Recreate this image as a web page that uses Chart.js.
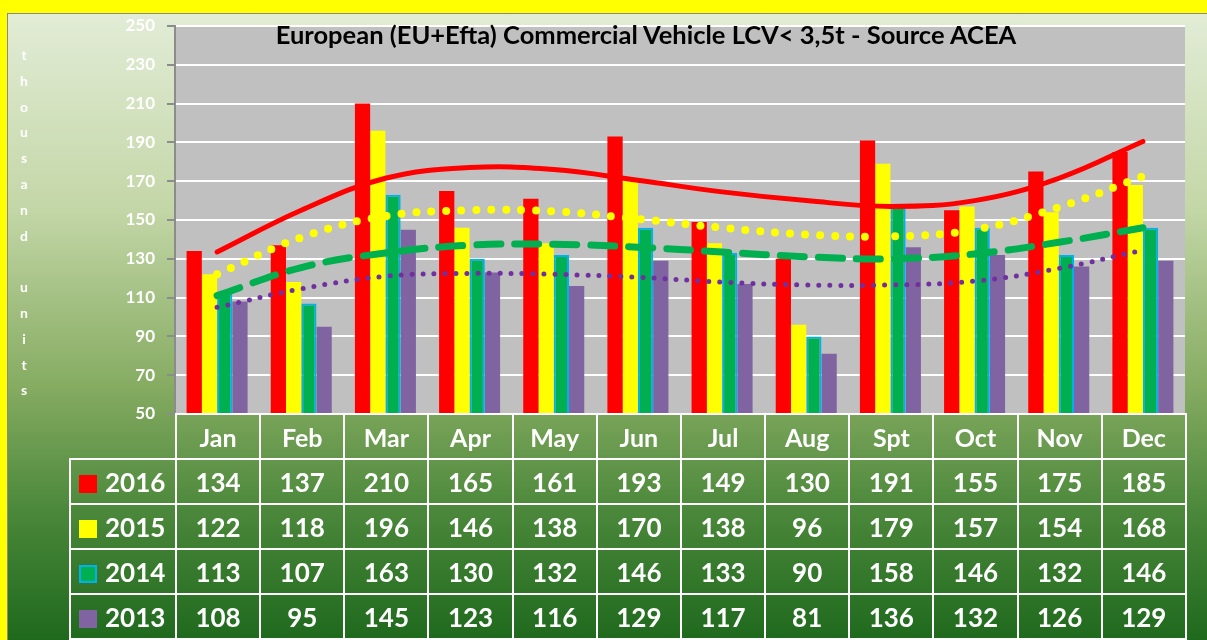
<html>
  <head>
    <style>
body {
  margin: 0;
  width: 1207px;
  height: 640px;
  overflow: hidden;
  background: #ffff00;
  font-family: Lato, "Open Sans", sans-serif;
  position: relative;
}

#panel {
  position: absolute;
  left: 7px;
  top: 13px;
  width: 1210px;
  height: 640px;
  border-left: 1px solid #8a8a8a;
  border-top: 1px solid #8a8a8a;
  background: linear-gradient(to bottom, #e2ecd6 0%, #c4d7a8 30%, #86ac62 58%, #4a873a 78%, #1a661a 100%);
}

#chart {
  position: absolute;
  left: 0;
  top: 0;
}

#title {
  position: absolute;
  left: 175px;
  width: 942px;
  top: 19px;
  text-align: center;
  font-weight: bold;
  font-size: 25.5px;
  color: #000;
}

#ylabel {
  position: absolute;
  left: 16px;
  top: 42px;
  width: 16px;
  text-align: center;
  color: #fff;
  font-weight: bold;
  font-size: 14px;
  line-height: 25.8px;
}

#table {
  position: absolute;
  left: 69px;
  top: 413px;
  border-collapse: collapse;
  table-layout: fixed;
  color: #fff;
  font-weight: bold;
}

#table td {
  border: 2px solid #fff;
  text-align: center;
  height: 45px;
  padding: 0;
  font-size: 26px;
}

#table td.month {
  font-size: 25px;
}

#table td.blank {
  border: none;
  border-bottom: 2px solid #fff;
}

#table td.year {
  text-align: left;
  padding-left: 8px;
}

.key {
  display: inline-block;
  width: 18px;
  height: 18px;
  margin-right: 8px;
  vertical-align: -1px;
  box-sizing: border-box;
}
    </style>
  </head>
  <body>
    <div id="panel"></div>
    <canvas id="chart" width="1207" height="640"></canvas>
    <div id="title">European (EU+Efta) Commercial Vehicle LCV&lt; 3,5t - Source ACEA</div>
    <div id="ylabel">t<br>h<br>o<br>u<br>s<br>a<br>n<br>d<br>&nbsp;<br>u<br>n<br>i<br>t<br>s</div>
    <table id="table"></table>
    <script src="https://cdn.jsdelivr.net/npm/chart.js"></script>
    <script>

const months = ['Jan', 'Feb', 'Mar', 'Apr', 'May', 'Jun', 'Jul', 'Aug', 'Spt', 'Oct', 'Nov', 'Dec']
const years = ['2016', '2015', '2014', '2013']
const v2016 = [134, 137, 210, 165, 161, 193, 149, 130, 191, 155, 175, 185]
const v2015 = [122, 118, 196, 146, 138, 170, 138, 96, 179, 157, 154, 168]
const v2014 = [113, 107, 163, 130, 132, 146, 133, 90, 158, 146, 132, 146]
const v2013 = [108, 95, 145, 123, 116, 129, 117, 81, 136, 132, 126, 129]

// trendlines at each month
const trend2016 = [133.5, 155, 171.5, 177, 176, 170.5, 164.5, 160, 157, 160, 171.5, 190.5]
const trend2015 = [122, 141, 152, 155, 154.5, 150.5, 146, 142.5, 141.5, 145, 156.5, 172.5]
const trend2014 = [111, 125.5, 133, 137, 137.5, 136, 133.5, 131, 130, 132.5, 138.5, 146]
const trend2013 = [105, 114.5, 121, 122.5, 122, 120.5, 118, 116.5, 116.5, 118.5, 125, 134.5]

const yTicks = [50, 250, 20]

const colors = {
  '2016': '#ff0000',
  '2015': '#ffff00',
  '2014': '#00b050',
  '2013': '#8064a2'
}
const rows = { '2016': v2016, '2015': v2015, '2014': v2014, '2013': v2013 }

// data table under the plot
const table = document.getElementById('table')
let html = '<colgroup><col style="width:106px">'
for (let i = 0; i < months.length; i++) html += '<col style="width:84.17px">'
html += '</colgroup><tr><td class="blank"></td>'
for (const m of months) html += '<td class="month">' + m + '</td>'
html += '</tr>'
for (const y of years) {
  const border = y === '2014' ? 'border:2px solid #00b0f0;' : ''
  html += '<tr><td class="year"><span class="key" style="background:' + colors[y] + ';' + border + '"></span>' + y + '</td>'
  for (const v of rows[y]) html += '<td>' + v + '</td>'
  html += '</tr>'
}
table.innerHTML = html

const plotBg = {
  id: 'plotBg',
  beforeDraw(chart) {
    const { ctx, chartArea } = chart
    ctx.save()
    ctx.fillStyle = '#c0c0c0'
    ctx.fillRect(chartArea.left, chartArea.top, chartArea.right - chartArea.left, chartArea.bottom - chartArea.top)
    ctx.restore()
  }
}

function bars(label, data, extra) {
  return Object.assign({
    type: 'bar',
    label,
    data,
    backgroundColor: colors[label],
    borderWidth: 0,
    categoryPercentage: 0.725,
    barPercentage: 1,
    order: 10
  }, extra || {})
}

function trend(data, color, width, dash) {
  return {
    type: 'line',
    data,
    borderColor: color,
    borderWidth: width,
    borderDash: dash,
    borderCapStyle: 'round',
    pointRadius: 0,
    tension: 0.4,
    fill: false,
    order: 1
  }
}

new Chart(document.getElementById('chart'), {
  type: 'bar',
  plugins: [plotBg],
  data: {
    labels: months,
    datasets: [
      bars('2016', v2016),
      bars('2015', v2015),
      bars('2014', v2014, { borderColor: '#00b0f0', borderWidth: { left: 2, right: 2, top: 2, bottom: 0 } }),
      bars('2013', v2013),
      trend(trend2013, '#7030a0', 5, [0, 11]),
      trend(trend2014, '#00b050', 7, [24, 14]),
      trend(trend2015, '#ffff00', 8, [0, 15]),
      trend(trend2016, '#ff0000', 5, [])
    ]
  },
  options: {
    responsive: false,
    animation: false,
    layout: { padding: { left: 0, right: 22, top: 26, bottom: 226 } },
    plugins: {
      legend: { display: false },
      tooltip: { enabled: false }
    },
    scales: {
      x: {
        offset: true,
        ticks: { display: false },
        grid: { display: false, drawTicks: false },
        border: { display: false }
      },
      y: {
        min: yTicks[0],
        max: yTicks[1],
        afterFit(scale) { scale.width = 175 },
        ticks: {
          stepSize: yTicks[2],
          color: '#fff',
          padding: 12,
          font: { family: 'Lato', weight: 'bold', size: 17 }
        },
        grid: { color: '#ffffff', lineWidth: 2, tickColor: '#8c8c8c', tickLength: 8 },
        border: { color: '#8c8c8c', width: 2 }
      }
    }
  }
})
    </script>
  </body>
</html>
